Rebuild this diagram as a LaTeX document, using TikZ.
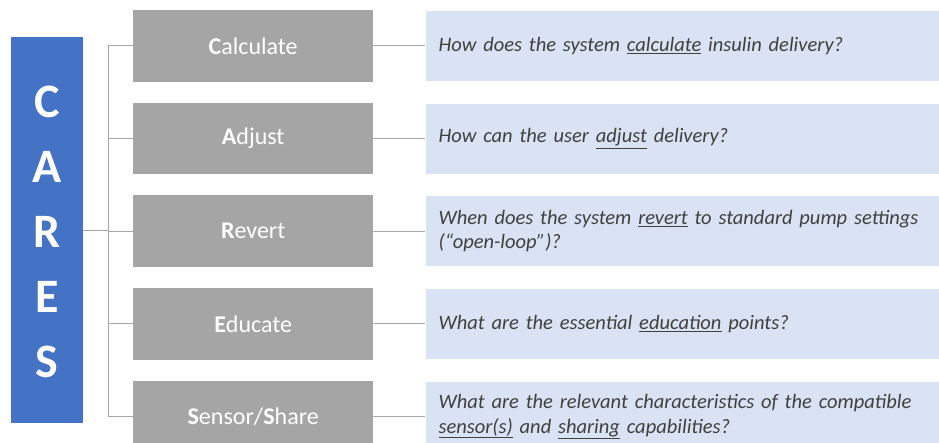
\documentclass[tikz,border=0pt]{standalone}
\usepackage{fontspec}
\setmainfont{Carlito}
\usetikzlibrary{positioning}
\usepackage{xcolor}
\definecolor{caresblue}{HTML}{4472C4}
\definecolor{boxgray}{HTML}{A5A5A5}
\definecolor{qblue}{HTML}{DAE3F3}
\definecolor{linegray}{HTML}{A6A6A6}
\definecolor{textgray}{HTML}{404040}

\begin{document}
\begin{tikzpicture}[%
    x=1pt, y=-1pt,
    node distance=20.75pt and 52pt,
    letter/.style={text=white, font=\fontsize{48}{48}\selectfont\bfseries, inner sep=0pt},
    stage/.style={rectangle, fill=boxgray, text=white, minimum width=240pt, minimum height=71.5pt, font=\fontsize{24}{28}\selectfont},
    question/.style={rectangle, fill=qblue, text=textgray, text width=530pt, inner xsep=13pt, minimum height=70pt, align=left, font=\fontsize{20.5}{24.5}\selectfont\itshape},
    link/.style={draw=linegray, line width=0.9pt},
  ]
  \useasboundingbox (0,0) rectangle (939,443);

  % --- acronym bar (left) ---
  \node[rectangle, fill=caresblue, minimum width=72pt, minimum height=386pt, inner sep=0pt, anchor=north west] (cares) at (11,37) {};
  \foreach \l [count=\i] in {C,A,R,E,S}
    \node[letter] (l-\i) at (47, 102+65*\i-65) {\l};

  % --- stages ---
  \node[stage, anchor=north west] (ca) at (133,10) {\textbf{C}alculate};
  \node[stage, below=of ca] (ad) {\textbf{A}djust};
  \node[stage, below=of ad] (rv) {\textbf{R}evert};
  \node[stage, below=of rv] (ed) {\textbf{E}ducate};
  \node[stage, below=of ed] (ss) {\textbf{S}ensor/\textbf{S}hare};

  % --- questions (right) ---
  \node[question, right=of ca] (q-ca) {How does the system \underline{calculate} insulin delivery?};
  \node[question, right=of ad] (q-ad) {How can the user \underline{adjust} delivery?};
  \node[question, right=of rv] (q-rv) {When does the system \underline{revert} to standard pump settings\\(``open-loop'')?};
  \node[question, right=of ed] (q-ed) {What are the essential \underline{education} points?};
  \node[question, right=of ss] (q-ss) {What are the relevant characteristics of the compatible\\\underline{sensor(s)} and \underline{sharing} capabilities?};

  % --- connectors ---
  \draw[link] (cares.east) -- ++(25,0) coordinate (trunk);
  \draw[link] (trunk |- ca.west) -- (trunk |- ss.west);
  \foreach \s in {ca,ad,rv,ed,ss} {
    \draw[link] (trunk |- \s.west) -- (\s.west);
    \draw[link] (\s.east) -- (q-\s.west);
  }
\end{tikzpicture}
\end{document}
